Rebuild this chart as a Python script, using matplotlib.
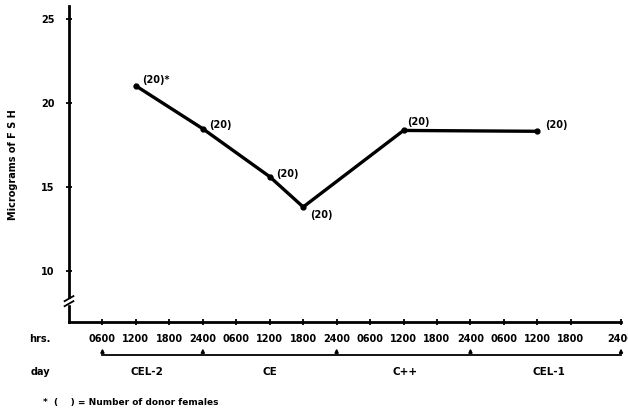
import numpy as np
import matplotlib.pyplot as plt

# FSH en microgramos a lo largo del ciclo (horas desde 0000 del dia CEL-2)
hours = [12, 24, 36, 42, 60, 84]
fsh = [21.0, 18.45, 15.6, 13.8, 18.35, 18.3]
donors = ["(20)*", "(20)", "(20)", "(20)", "(20)", "(20)"]

tick_hours = [6, 12, 18, 24, 30, 36, 42, 48, 54, 60, 66, 72, 78, 84, 90, 99]
tick_labels = ["0600", "1200", "1800", "2400", "0600", "1200", "1800", "2400",
               "0600", "1200", "1800", "2400", "0600", "1200", "1800", "2400"]
y_ticks = [10, 15, 20, 25]

day_names = ["CEL-2", "CE", "C++", "CEL-1"]
day_centers = [14, 36, 60.3, 86]
day_bounds = [6, 24, 48, 72, 99]

plt.rcParams['font.family'] = ['DejaVu Sans']
plt.rcParams['font.weight'] = 'bold'

fig = plt.figure(figsize=(6.28, 4.12), dpi=100)
ax = fig.add_axes([69 / 628, 1 - 322 / 412, (621 - 69) / 628, 316 / 412])

ax.plot(hours, fsh, '-', color='black', lw=2.4, zorder=2)
ax.plot(hours, fsh, 'o', color='black', ms=3.5, zorder=3)

offsets = [(6, 6), (6, 4), (6, 3), (7, -8), (4, 8), (8, 6)]
for h, v, lab, off in zip(hours, fsh, donors, offsets):
    ax.annotate(lab, (h, v), xytext=off, textcoords='offset pixels',
                fontsize=7, fontweight='bold', ha='left', va='center')

ax.set_xlim(0, 99)
ax.set_ylim(6.96, 25.75)
ax.set_xticks(tick_hours)
ax.set_xticklabels(tick_labels)
ax.set_yticks(y_ticks)
ax.tick_params(axis='both', direction='inout', length=5, width=1.3,
               labelsize=7, colors='black')
ax.tick_params(axis='x', pad=6)
ax.tick_params(axis='y', pad=8)
for lab in ax.get_xticklabels() + ax.get_yticklabels():
    lab.set_fontweight('bold')

for s in ['top', 'right']:
    ax.spines[s].set_visible(False)
for s in ['left', 'bottom']:
    ax.spines[s].set_linewidth(2)

# corte del eje y
tr = ax.get_yaxis_transform()
ax.fill_between([-0.02, 0.02], 8.05, 8.35, color='white', transform=tr,
                clip_on=False, zorder=5)
for yb in [8.05, 8.35]:
    ax.plot([-0.008, 0.008], [yb - 0.15, yb + 0.15], color='black', lw=1.3,
            transform=tr, clip_on=False, zorder=6)

# llaves de los dias
xt = ax.get_xaxis_transform()
ax.plot([day_bounds[0], day_bounds[-1]], [-0.104, -0.104], color='black',
        lw=1.3, transform=xt, clip_on=False)
for b in day_bounds:
    ax.annotate('', xy=(b, -0.075), xytext=(b, -0.106), xycoords=xt,
                textcoords=xt,
                arrowprops=dict(arrowstyle='-|>', color='black', lw=1.2,
                                mutation_scale=5))
for c, name in zip(day_centers, day_names):
    ax.text(c, -0.158, name, transform=xt, fontsize=7.5, fontweight='bold',
            ha='center', va='center')

fig.text(40 / 628, 1 - 339 / 412, "hrs.", fontsize=7, fontweight='bold',
         ha='center', va='center')
fig.text(40 / 628, 1 - 372 / 412, "day", fontsize=7, fontweight='bold',
         ha='center', va='center')
fig.text(13 / 628, 1 - 165 / 412, "Micrograms of F S H", fontsize=7,
         fontweight='bold', rotation=90, ha='center', va='center')
fig.text(43 / 628, 1 - 402 / 412, "*  (    ) = Number of donor females",
         fontsize=6.5, fontweight='bold', ha='left', va='center')

fig.savefig('out.png', dpi=100)
